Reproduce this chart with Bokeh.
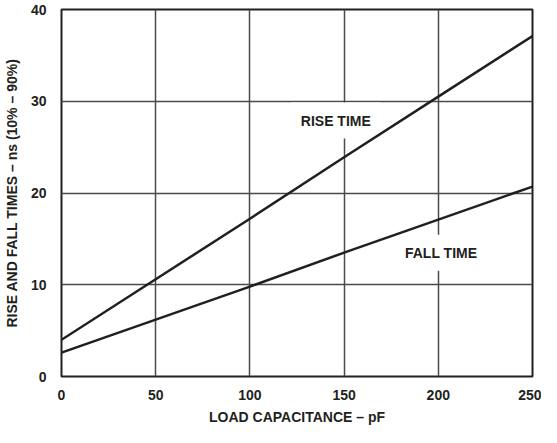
from bokeh.plotting import figure
from bokeh.models import Range1d, FixedTicker, Label
from bokeh.embed import file_html
from bokeh.resources import INLINE

# Data
load_pf = [0, 50, 100, 150, 200, 250]
rise_ns = [4.0, 10.6, 17.2, 23.9, 30.5, 37.1]
fall_ns = [2.6, 6.2, 9.8, 13.5, 17.1, 20.7]
x_ticks = [0, 50, 100, 150, 200, 250]
y_ticks = [0, 10, 20, 30, 40]

INK = "#231f20"
FONT = "Liberation Sans"

p = figure(width=541, height=427, output_backend="svg", toolbar_location=None,
           x_range=Range1d(0, 250), y_range=Range1d(0, 40),
           min_border_left=55, min_border_right=9, min_border_top=9, min_border_bottom=41)

p.outline_line_color = INK
p.outline_line_width = 2

for ax in (p.xaxis[0], p.yaxis[0]):
    ax.axis_line_color = None
    ax.major_tick_line_color = None
    ax.minor_tick_line_color = None
    ax.major_label_text_font = FONT
    ax.major_label_text_font_style = "bold"
    ax.major_label_text_font_size = "14px"
    ax.major_label_text_color = INK
    ax.axis_label_text_font = FONT
    ax.axis_label_text_font_style = "bold"
    ax.axis_label_text_font_size = "14px"
    ax.axis_label_text_color = INK

p.xaxis.ticker = FixedTicker(ticks=x_ticks)
p.yaxis.ticker = FixedTicker(ticks=y_ticks)
p.xaxis.axis_label = "LOAD CAPACITANCE – pF"
p.yaxis.axis_label = "RISE AND FALL TIMES – ns (10% – 90%)"
p.xaxis.major_label_standoff = 7
p.yaxis.major_label_standoff = 9
p.xaxis.axis_label_standoff = 6
p.yaxis.axis_label_standoff = 8

p.xgrid.ticker = FixedTicker(ticks=x_ticks)
p.ygrid.ticker = FixedTicker(ticks=y_ticks)
for g in (p.xgrid[0], p.ygrid[0]):
    g.grid_line_color = "#4a4a4a"
    g.grid_line_width = 1.5

p.line(load_pf, rise_ns, line_color=INK, line_width=2.5)
p.line(load_pf, fall_ns, line_color=INK, line_width=2.5)

for txt, lx, ly in (("RISE TIME", 145.6, 27.9), ("FALL TIME", 201.5, 13.5)):
    p.add_layout(Label(x=lx, y=ly, text=txt, text_align="center", text_baseline="middle",
                       text_font=FONT, text_font_style="bold", text_font_size="14px",
                       text_color=INK, background_fill_color="white", padding=10,
                       level="underlay"))

open("out.html", "w").write(file_html(p, INLINE))
